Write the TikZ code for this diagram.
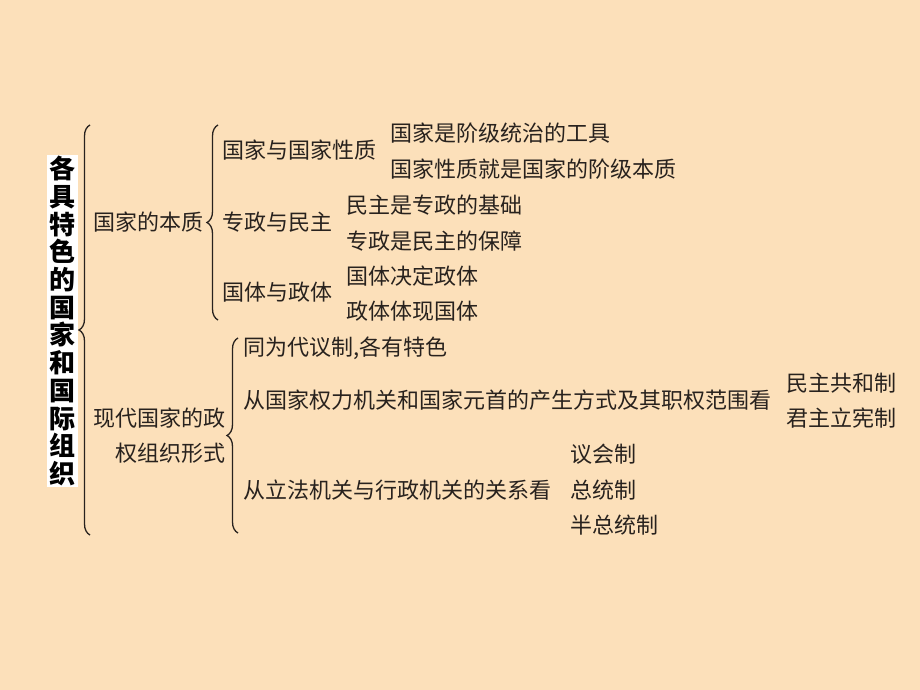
\documentclass[tikz,border=0pt]{standalone}
\usepackage{fontspec}
\usepackage{tikz}
\usetikzlibrary{decorations.pathreplacing}
\newfontfamily\cjk{Noto Sans CJK SC}
\definecolor{peach}{RGB}{252,224,186}
\definecolor{ink}{RGB}{40,34,30}

\begin{document}
\begin{tikzpicture}[x=1pt,y=-1pt,
    txt/.style={anchor=west,inner sep=0pt,text=ink,font=\cjk\fontsize{22}{35}\selectfont},
    brc/.style={draw=ink,line width=1.3pt,decorate,decoration={brace,amplitude=#1}}]
            \fill[peach] (0,0) rectangle (920,690);
            \useasboundingbox (0,0) rectangle (920,690);
            \node[fill=white,inner sep=0pt,minimum width=31,minimum height=332,align=center,
                  font=\cjk\bfseries\fontsize{26}{27.7}\selectfont] (title) at (62.5,321)
                  {各\\具\\特\\色\\的\\国\\家\\和\\国\\际\\组\\织};
            \coordinate (b1t) at (90,125);
            \coordinate (b1b) at (90,535);
            \draw[brc=11] (b1b) -- (b1t);
            \node[txt] (essence) at (93,222) {国家的本质};
            \node[txt,anchor=east,align=right] (regime) at (226,435.5) {现代国家的政\\权组织形式};
            \coordinate (b2t) at (218,125);
            \coordinate (b2b) at (218,320);
            \draw[brc=11] (b2b) -- (b2t);
            \node[txt] (nature) at (222,150) {国家与国家性质};
            \node[txt] (tool) at (390,133) {国家是阶级统治的工具};
            \node[txt] (class) at (390,169) {国家性质就是国家的阶级本质};
            \node[txt] (dict) at (222,222) {专政与民主};
            \node[txt] (basis) at (346,205) {民主是专政的基础};
            \node[txt] (guard) at (346,241) {专政是民主的保障};
            \node[txt] (form) at (222,292) {国体与政体};
            \node[txt] (decide) at (346,276) {国体决定政体};
            \node[txt] (reflect) at (346,311) {政体体现国体};
            \coordinate (b3t) at (238,338);
            \coordinate (b3b) at (238,533);
            \draw[brc=11] (b3b) -- (b3t);
            \node[txt] (repr) at (243,348) {同为代议制,各有特色};
            \node[txt] (power) at (243,400) {从国家权力机关和国家元首的产生方式及其职权范围看};
            \node[txt] (republic) at (786,383) {民主共和制};
            \node[txt] (monarchy) at (786,418) {君主立宪制};
            \node[txt] (branch) at (243,490) {从立法机关与行政机关的关系看};
            \node[txt] (parl) at (570,454) {议会制};
            \node[txt] (pres) at (570,490) {总统制};
            \node[txt] (semi) at (570,525) {半总统制};
          \end{tikzpicture}
\end{document}
